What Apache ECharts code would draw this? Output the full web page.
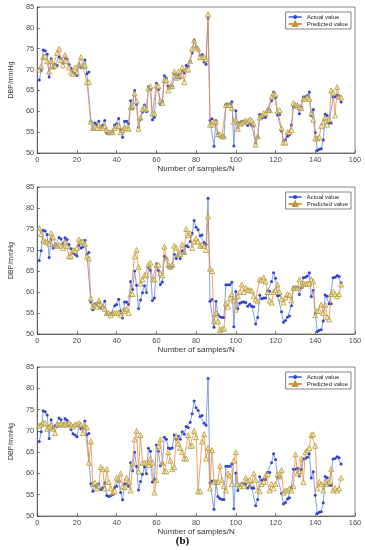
<!DOCTYPE html>
<html>
<head>
<meta charset="utf-8">
<script src="https://cdn.jsdelivr.net/npm/echarts@6/dist/echarts.min.js"></script>
<style>
  html, body { margin: 0; padding: 0; background: #fff; }
  #chart { width: 365px; height: 550px; }
</style>
</head>
<body>
<div id="chart"></div>
<script>
// 实际值（三幅图相同）
const actual = [67.5, 69.8, 74.7, 74.5, 73.7, 68.2, 72.6, 70.5, 71.2, 71.0, 73.0, 72.6, 71.5, 72.9, 72.5, 71.3, 70.3, 69.3, 69.0, 68.6,
  71.2, 70.5, 70.7, 72.3, 69.0, 69.4, 57.6, 55.8, 57.2, 56.8, 57.6, 56.2, 56.6, 57.8, 54.8, 54.6, 54.8, 55.0, 56.7, 57.0,
  58.3, 55.5, 53.8, 57.6, 57.6, 57.0, 62.5, 60.6, 65.0, 61.6, 56.1, 58.1, 59.8, 61.5, 59.9, 65.9, 65.2, 58.0, 58.6, 66.7,
  65.2, 61.8, 62.4, 68.5, 68.0, 66.0, 65.8, 66.0, 69.0, 68.0, 68.8, 68.0, 69.8, 69.2, 71.0, 70.8, 72.0, 74.0, 77.0, 75.4,
  74.8, 73.4, 73.6, 71.8, 71.3, 82.3, 57.8, 58.2, 51.6, 57.8, 54.6, 54.1, 53.9, 53.9, 61.7, 61.7, 61.7, 62.3, 51.7, 60.1,
  56.0, 57.3, 57.6, 57.6, 57.5, 56.6, 57.1, 56.6, 56.5, 52.4, 53.9, 59.2, 58.4, 58.6, 58.6, 60.3, 60.2, 62.5, 64.6, 63.3,
  59.1, 59.2, 55.3, 52.8, 53.2, 54.0, 54.3, 56.7, 61.0, 61.0, 61.2, 59.4, 61.0, 63.4, 63.5, 63.8, 64.6, 58.9, 60.4, 54.9,
  50.6, 50.9, 51.0, 53.1, 59.3, 59.0, 57.2, 57.2, 63.4, 63.5, 63.9, 63.7, 62.2]
// 预测值（上图）
const predA = [70.0, 70.8, 73.0, 73.2, 72.0, 69.5, 72.0, 70.7, 71.0, 74.0, 75.0, 72.3, 71.0, 73.5, 72.0, 70.5, 69.3, 69.0, 70.5, 69.3,
  71.3, 73.0, 70.8, 71.0, 67.0, 67.0, 57.5, 56.0, 56.3, 56.0, 56.8, 56.0, 56.0, 56.5, 55.5, 55.0, 55.0, 55.0, 56.0, 56.5,
  56.5, 55.0, 55.5, 56.0, 56.0, 55.8, 61.0, 61.3, 64.3, 62.5, 55.8, 58.5, 60.5, 61.0, 60.5, 65.5, 66.0, 59.5, 59.5, 66.2,
  66.0, 62.5, 62.0, 67.5, 67.5, 65.0, 66.0, 66.0, 69.5, 68.0, 69.5, 68.5, 70.5, 67.0, 70.0, 70.0, 72.0, 75.0, 77.0, 75.5,
  75.0, 73.0, 73.0, 73.0, 72.5, 83.3, 56.8, 56.8, 57.5, 57.5, 54.5, 54.5, 54.0, 54.0, 61.5, 61.5, 61.5, 60.8, 57.5, 58.0,
  55.8, 57.0, 57.3, 57.5, 57.8, 57.5, 58.0, 57.8, 57.0, 52.0, 54.0, 58.5, 59.0, 59.5, 59.5, 60.3, 60.3, 63.5, 64.3, 64.0,
  60.0, 60.3, 56.0, 52.5, 52.5, 55.0, 55.0, 55.5, 62.0, 61.5, 61.5, 61.0, 60.8, 63.0, 63.0, 63.5, 63.0, 59.5, 58.0, 53.5,
  53.5, 53.8, 56.5, 57.5, 58.5, 56.8, 58.0, 65.0, 64.5, 59.0, 65.8, 63.5, 63.3]
// 预测值（中图）
const predB = [75.2, 73.8, 72.3, 72.0, 72.0, 71.5, 74.0, 73.0, 71.3, 71.0, 71.3, 71.0, 70.5, 71.8, 71.0, 68.5, 68.5, 70.0, 69.8, 70.5,
  72.5, 72.0, 72.0, 71.5, 68.5, 68.0, 58.5, 56.5, 57.0, 56.5, 58.0, 57.0, 56.5, 56.0, 55.0, 55.0, 54.5, 55.0, 55.0, 55.0,
  55.0, 54.5, 55.5, 55.5, 56.0, 55.0, 59.5, 59.5, 68.5, 70.0, 66.0, 62.0, 63.0, 64.0, 64.0, 66.5, 67.0, 63.0, 63.0, 66.5,
  66.5, 64.5, 64.0, 70.8, 68.0, 66.5, 66.0, 66.5, 71.0, 70.5, 69.0, 69.0, 71.3, 69.5, 75.0, 73.5, 74.0, 70.5, 72.0, 72.8,
  72.0, 71.0, 71.3, 71.0, 70.0, 78.0, 65.5, 65.0, 53.0, 55.0, 53.0, 51.0, 51.2, 51.3, 57.3, 56.5, 58.5, 59.5, 58.0, 55.8,
  59.0, 60.0, 61.8, 60.0, 61.0, 60.5, 60.5, 60.3, 59.0, 58.2, 57.8, 63.0, 62.8, 63.5, 62.5, 60.0, 58.0, 57.5, 60.0, 60.5,
  61.8, 60.0, 58.3, 57.5, 58.7, 59.5, 59.3, 58.0, 61.0, 61.0, 61.0, 63.0, 61.5, 62.0, 62.0, 62.0, 62.0, 63.0, 62.5, 54.5,
  55.5, 55.5, 57.0, 55.0, 57.0, 54.0, 53.5, 59.5, 60.0, 59.5, 59.0, 59.5, 61.8]
// 预测值（下图）
const predC = [71.2, 71.5, 72.0, 71.8, 70.5, 71.0, 71.5, 70.5, 69.5, 71.5, 71.5, 71.8, 71.5, 71.5, 71.5, 71.8, 71.5, 71.0, 71.5, 71.5,
  71.8, 71.5, 69.5, 71.0, 70.8, 62.5, 67.5, 57.5, 57.8, 56.5, 57.0, 61.5, 61.0, 56.5, 61.0, 58.0, 56.5, 55.5, 55.8, 59.0,
  58.5, 60.0, 57.0, 56.8, 59.0, 58.0, 56.0, 62.5, 68.0, 70.0, 60.5, 69.0, 62.5, 62.5, 62.5, 62.0, 63.5, 62.5, 55.5, 58.5,
  66.5, 68.0, 62.5, 60.5, 60.5, 65.0, 63.0, 61.0, 61.5, 68.8, 67.0, 66.0, 65.0, 63.5, 63.5, 69.0, 66.5, 66.5, 70.0, 68.5,
  55.8, 55.8, 67.5, 69.2, 63.5, 66.0, 56.5, 65.5, 58.0, 58.0, 58.0, 61.8, 58.5, 57.0, 56.0, 60.0, 59.5, 57.5, 63.0, 65.0,
  57.5, 57.0, 57.5, 57.0, 59.0, 58.3, 58.5, 57.5, 60.0, 58.5, 56.0, 55.8, 57.5, 58.0, 59.5, 59.8, 56.0, 57.5, 56.5, 57.5,
  59.8, 59.3, 60.8, 55.5, 56.0, 56.0, 56.5, 56.0, 57.0, 64.5, 60.0, 60.5, 63.5, 58.0, 65.0, 65.5, 66.0, 69.0, 69.2, 66.5,
  56.5, 58.0, 57.5, 56.0, 58.0, 57.5, 58.0, 61.0, 56.0, 56.5, 56.0, 56.5, 59.0]

const xTicks = [0, 20, 40, 60, 80, 100, 120, 140, 160]
const yTicks = [50, 55, 60, 65, 70, 75, 80, 85]

const panels = [
  { top: 7, height: 146, pred: predA },
  { top: 187, height: 147, pred: predB },
  { top: 367, height: 149, pred: predC }
]

const axisColor = '#333'
const labelFont = { color: '#4a4a4a', fontSize: 7.5, fontFamily: 'Liberation Sans' }

let myChart = echarts.init(document.getElementById('chart'))

const toPts = (arr) => arr.map((v, i) => [i + 1, v])

let grids = [], xAxes = [], yAxes = [], series = [], legends = []
panels.forEach((p, k) => {
  grids.push({ left: 22, right: 10, top: p.top, height: p.height, show: true, borderColor: axisColor, borderWidth: 0.6 })
  xAxes.push({
    gridIndex: k, type: 'value', min: xTicks[0], max: xTicks[xTicks.length - 1], interval: 20,
    name: 'Number of samples/N', nameLocation: 'middle', nameGap: 11,
    nameTextStyle: { color: '#333', fontSize: 8, fontFamily: 'Liberation Sans' },
    axisLine: { lineStyle: { color: axisColor, width: 0.6 } },
    axisTick: { inside: true, length: 3, lineStyle: { color: axisColor, width: 0.6 } },
    axisLabel: Object.assign({ margin: 3 }, labelFont),
    splitLine: { show: false }
  })
  yAxes.push({
    gridIndex: k, type: 'value', min: yTicks[0], max: yTicks[yTicks.length - 1], interval: 5,
    name: 'DBP/mmHg', nameLocation: 'middle', nameGap: 13, nameRotate: 90,
    nameTextStyle: { color: '#333', fontSize: 7, fontFamily: 'Liberation Sans' },
    axisLine: { lineStyle: { color: axisColor, width: 0.6 } },
    axisTick: { inside: true, length: 3, lineStyle: { color: axisColor, width: 0.6 } },
    axisLabel: Object.assign({ margin: 3 }, labelFont),
    splitLine: { show: false }
  })
  series.push({
    name: 'Actual value', type: 'line', xAxisIndex: k, yAxisIndex: k,
    data: toPts(actual), symbol: 'circle', symbolSize: 3,
    lineStyle: { color: '#6584e6', width: 0.8 },
    itemStyle: { color: '#3344cc' },
    z: 2
  })
  series.push({
    name: 'Predicted value', type: 'line', xAxisIndex: k, yAxisIndex: k,
    data: toPts(p.pred), symbol: 'triangle', symbolSize: 5,
    lineStyle: { color: '#ee8a40', width: 0.8 },
    itemStyle: { color: 'rgba(255,235,170,0.5)', borderColor: '#b09a3a', borderWidth: 0.8 },
    z: 3
  })
  legends.push({
    data: ['Actual value', 'Predicted value'],
    orient: 'vertical', right: 14, top: p.top + 5,
    itemWidth: 13, itemHeight: 5, itemGap: 1,
    padding: [2, 3, 2, 2],
    borderColor: axisColor, borderWidth: 0.6, backgroundColor: '#fff',
    textStyle: { color: '#262626', fontSize: 6, fontFamily: 'Liberation Sans' },
    selectedMode: false
  })
})

let option = {
  animation: false,
  backgroundColor: '#fff',
  grid: grids,
  xAxis: xAxes,
  yAxis: yAxes,
  legend: legends,
  series: series,
  graphic: [{
    type: 'text', left: 'center', top: 536,
    style: { text: '(b)', fontSize: 11, fontWeight: 'bold', fontFamily: 'Liberation Serif', fill: '#000' }
  }]
}
myChart.setOption(option)
</script>
</body>
</html>
